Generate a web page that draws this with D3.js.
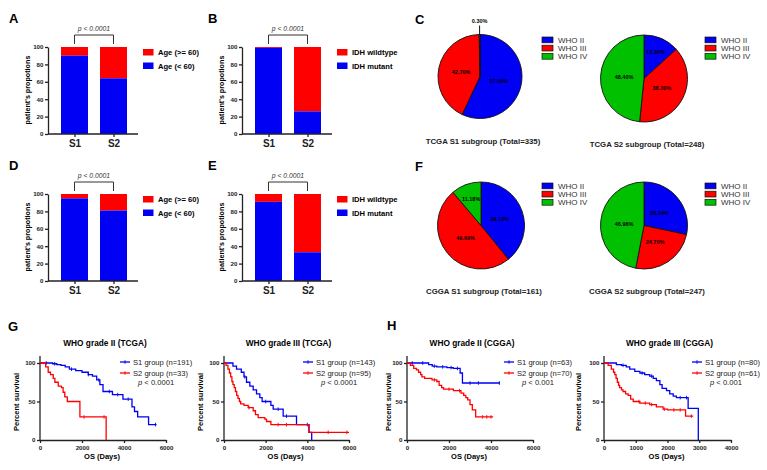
<!DOCTYPE html>
<html><head><meta charset="utf-8">
<script src="https://cdn.jsdelivr.net/npm/d3@7"></script>
<style>body{margin:0;background:#fff}text{font-family:"Liberation Sans",Arial,sans-serif}</style>
</head><body><svg id="c" width="767" height="470"></svg>
<script>
// ---------- DATA ----------
const barCategories = ["S1", "S2"];
const ageLegend = ["Age (>= 60)", "Age (< 60)"];
const idhLegend = ["IDH wildtype", "IDH mutant"];
const tcgaAgeYoung = [90, 64];     // % blue (Age < 60)
const tcgaIdhMutant = [99, 26];    // % blue (IDH mutant)
const cggaAgeYoung = [95, 81];
const cggaIdhMutant = [91, 33];
const barTicks = [0, 20, 40, 60, 80, 100];
const barPText = "p < 0.0001";

const whoGrades = ["WHO II", "WHO III", "WHO IV"];
const tcgaS1Pct = [57.00, 42.70, 0.30];
const tcgaS2Pct = [13.30, 38.30, 48.40];
const cggaS1Pct = [39.13, 49.69, 11.18];
const cggaS2Pct = [28.34, 24.70, 46.96];
const pieTitles = ["TCGA S1 subgroup (Total=335)", "TCGA S2 subgroup (Total=248)",
                   "CGGA S1 subgroup (Total=161)", "CGGA S2 subgroup (Total=247)"];

// Kaplan-Meier curves: [days, percent survival]
const gIIs1 = [[0,100],[600,99],[800,98],[1000,97],[1200,95],[1400,92],[1700,90],[2000,88],[2300,85],[2500,83],[2700,78],[2850,72],[3000,63],[3450,59],[3950,53],[4380,43],[4500,37],[4650,30],[5170,20],[5550,20]];
const gIIs2 = [[0,100],[270,95],[390,88],[500,85],[630,80],[710,75],[870,70],[1020,68],[1100,62],[1180,56],[1300,50],[1900,30],[3150,0]];
const gIIIs1 = [[0,100],[430,96],[600,92],[830,88],[960,82],[1080,75],[1240,70],[1400,65],[1560,60],[1720,55],[1830,50],[2250,45],[2360,40],[2840,31],[3480,20],[4080,10],[4210,0]];
const gIIIs2 = [[0,100],[100,97],[190,92],[260,87],[320,82],[380,76],[430,72],[490,68],[550,63],[610,58],[670,54],[740,50],[800,47],[960,45],[1160,42],[1400,38],[1510,33],[1640,29],[1960,27],[2040,24],[2250,20],[4080,10],[6000,10]];
const hIIs1 = [[0,100],[1030,98],[1200,96],[1420,95],[1900,94],[2200,93],[2530,87],[2640,74],[4420,74]];
const hIIs2 = [[0,100],[160,97],[320,93],[450,91],[550,88],[650,85],[710,82],[840,80],[1190,78],[1420,76],[1530,71],[1650,68],[1740,66],[2210,64],[2570,61],[2700,58],[2800,55],[2890,52],[3000,46],[3110,39],[3270,30],[4100,30]];
const hIIIs1 = [[0,100],[390,98],[550,97],[700,95],[810,92],[970,89],[1130,87],[1280,85],[1440,83],[1550,80],[1650,77],[1760,72],[1830,67],[1970,64],[2070,60],[2180,57],[2280,55],[2650,41],[2970,0]];
const hIIIs2 = [[0,100],[130,97],[230,92],[300,88],[340,85],[380,80],[420,75],[460,71],[490,68],[550,65],[600,63],[680,60],[760,58],[840,53],[920,50],[1130,48],[1440,46],[1650,43],[1860,40],[2000,39],[2570,31],[2810,31]];
// censor marks (days)
const gIIs1Cens = [300,700,1500,2300,2800,3300,3700,4200,5500];
const gIIs2Cens = [2100,3050];
const gIIIs1Cens = [1000,2000,2600,3000,4000];
const gIIIs2Cens = [1200,2600,3000,5000,5900];
const hIIs1Cens = [250,750,1300,1700,2100,2400,3000,3400,4400];
const hIIs2Cens = [1300,2000,2500,3600,3800,4000];
const hIIIs1Cens = [600,1200,1500,2400,2600];
const hIIIs2Cens = [1100,1300,1500,1900,2200,2400,2750];
const kmLegend = [["S1 group (n=191)","S2 group (n=33)"],["S1 group (n=143)","S2 group (n=95)"],
                  ["S1 group (n=63)","S2 group (n=70)"],["S1 group (n=80)","S2 group (n=61)"]];
const kmP = ["< 0.0001","< 0.0001","< 0.001","< 0.001"];
const kmTitles = ["WHO grade II (TCGA)","WHO grade III (TCGA)","WHO grade II (CGGA)","WHO grade III (CGGA)"];

// ---------- STYLE ----------
const BLUE = "#0000f5", RED = "#ff0000", GREEN = "#00c000", AX = "#222";
const svg = d3.select("#c");

function label(x, y, t) {
  svg.append("text").attr("x", x).attr("y", y).text(t)
    .attr("font-size", 13).attr("font-weight", "bold");
}

function styleAxis(g, fs) {
  g.selectAll("path,line").attr("stroke", AX).attr("stroke-width", 1.3);
  g.selectAll("text").attr("font-size", fs).attr("font-weight", "bold")
    .attr("fill", AX).style("font-family", '"Liberation Sans",Arial,sans-serif');
}

function barPanel(ox, oy, blueVals, legendLabels) {
  const g = svg.append("g");
  const y = d3.scaleLinear([0, 100], [oy, oy - 87]);
  const x = d3.scalePoint(barCategories, [ox + 26.5, ox + 65.5]);
  const bw = 27;
  barCategories.forEach((c, i) => {
    g.append("rect").attr("x", x(c) - bw / 2).attr("width", bw)
      .attr("y", y(100)).attr("height", y(blueVals[i]) - y(100)).attr("fill", RED);
    g.append("rect").attr("x", x(c) - bw / 2).attr("width", bw)
      .attr("y", y(blueVals[i])).attr("height", y(0) - y(blueVals[i])).attr("fill", BLUE);
  });
  const ya = g.append("g").attr("transform", `translate(${ox},0)`)
    .call(d3.axisLeft(y).tickValues(barTicks).tickSize(3).tickPadding(1.5).tickSizeOuter(0));
  styleAxis(ya, 6.2);
  const xa = g.append("g").attr("transform", `translate(0,${oy})`)
    .call(d3.axisBottom(x).tickSize(3).tickPadding(3).tickSizeOuter(0));
  xa.select(".domain").remove();
  styleAxis(xa, 10);
  g.append("line").attr("x1", ox).attr("x2", ox + 90).attr("y1", oy).attr("y2", oy)
    .attr("stroke", AX).attr("stroke-width", 1.3);
  // bracket
  g.append("path").attr("d", `M${x("S1")},${oy - 90}V${oy - 99}H${x("S2")}V${oy - 90}`)
    .attr("fill", "none").attr("stroke", "#333").attr("stroke-width", 1);
  g.append("text").attr("x", (x("S1") + x("S2")) / 2).attr("y", oy - 103.5)
    .attr("text-anchor", "middle").attr("font-size", 6.8).attr("font-style", "italic")
    .attr("fill", "#333").text(barPText);
  // y label
  g.append("text").attr("transform", `translate(${ox - 18},${oy - 44}) rotate(-90)`)
    .attr("text-anchor", "middle").attr("font-size", 7.2).attr("font-weight", "bold")
    .text("patient's propotions");
  // legend
  [RED, BLUE].forEach((col, i) => {
    g.append("rect").attr("x", ox + 95).attr("y", oy - 85 + i * 13.5).attr("width", 10.5).attr("height", 6.5).attr("fill", col);
    g.append("text").attr("x", ox + 110).attr("y", oy - 79 + i * 13.5).attr("font-size", 7.6)
      .attr("font-weight", "bold").text(legendLabels[i]);
  });
}

function piePanel(cx, cy, r, vals, title, lx, ly) {
  const g = svg.append("g");
  const pie = d3.pie().sort(null).value(d => d);
  const arcs = pie(vals);
  const arc = d3.arc().innerRadius(0).outerRadius(r);
  const cols = [BLUE, RED, GREEN];
  g.selectAll("path").data(arcs).join("path")
    .attr("transform", `translate(${cx},${cy})`)
    .attr("d", arc).attr("fill", (d, i) => cols[i]).attr("stroke", "#111").attr("stroke-width", 0.9);
  arcs.forEach((a, i) => {
    const frac = vals[i] / 100;
    const txt = vals[i].toFixed(2) + "%";
    if (frac < 0.02) {
      const ang = (a.startAngle + a.endAngle) / 2;
      const px = cx + Math.sin(ang) * r, py = cy - Math.cos(ang) * r;
      g.append("line").attr("x1", px).attr("y1", py).attr("x2", px).attr("y2", py - 9)
        .attr("stroke", "#111").attr("stroke-width", 1);
      g.append("text").attr("x", px).attr("y", py - 11.5).attr("text-anchor", "middle")
        .attr("font-size", 5.5).attr("font-weight", "bold").text(txt);
    } else {
      const lr = frac < 0.16 ? r * 0.66 : r * 0.46;
      const ang = (a.startAngle + a.endAngle) / 2;
      g.append("text").attr("x", cx + Math.sin(ang) * lr).attr("y", cy - Math.cos(ang) * lr + 2)
        .attr("text-anchor", "middle").attr("font-size", 5.5).attr("font-weight", "bold").text(txt);
    }
  });
  g.append("text").attr("x", cx + 3).attr("y", cy + r + 25).attr("text-anchor", "middle")
    .attr("font-size", 7.8).attr("font-weight", "bold").attr("fill", "#222").text(title);
  whoGrades.forEach((w, i) => {
    g.append("rect").attr("x", lx).attr("y", ly + i * 8.2).attr("width", 11).attr("height", 5.8)
      .attr("fill", cols[i]).attr("stroke", "#111").attr("stroke-width", 0.7);
    g.append("text").attr("x", lx + 16).attr("y", ly + 5.8 + i * 8.2).attr("font-size", 8)
      .attr("fill", "#333").text(w);
  });
}

function kmPanel(x0, x1, xmax, xticks, title, s1, s2, c1, c2, leg, ptxt, legX, ylx) {
  const g = svg.append("g");
  const x = d3.scaleLinear([0, xmax], [x0, x1]);
  const y = d3.scaleLinear([0, 100], [440, 363]);
  g.append("text").attr("x", (x0 + x1) / 2 + 2).attr("y", 346).attr("text-anchor", "middle")
    .attr("font-size", 8.3).attr("font-weight", "bold").text(title);
  const ya = g.append("g").attr("transform", `translate(${x0},0)`)
    .call(d3.axisLeft(y).tickValues([0, 50, 100]).tickSize(3).tickPadding(1.5).tickSizeOuter(0));
  ya.select(".domain").attr("d", `M0,${y(0)}V${y(109)}`);
  styleAxis(ya, 6.2);
  const xa = g.append("g").attr("transform", `translate(0,440)`)
    .call(d3.axisBottom(x).tickValues(xticks).tickFormat(d3.format("d")).tickSize(3).tickPadding(2.5).tickSizeOuter(0));
  styleAxis(xa, 6.2);
  g.append("text").attr("x", (x0 + x1) / 2 - 1).attr("y", 459).attr("text-anchor", "middle")
    .attr("font-size", 7.5).attr("font-weight", "bold").text("OS (Days)");
  g.append("text").attr("transform", `translate(${ylx},402) rotate(-90)`).attr("text-anchor", "middle")
    .attr("font-size", 7.5).attr("font-weight", "bold").text("Percent survival");
  const line = d3.line().x(d => x(d[0])).y(d => y(d[1])).curve(d3.curveStepAfter);
  const valAt = (curve, t) => { let v = 100; curve.forEach(p => { if (p[0] <= t) v = p[1]; }); return v; };
  [[s1, c1, BLUE], [s2, c2, RED]].forEach(([cv, cens, col]) => {
    g.append("path").datum(cv).attr("d", line).attr("fill", "none").attr("stroke", col).attr("stroke-width", 1.3);
    cens.forEach(t => {
      const yy = y(valAt(cv, t));
      g.append("line").attr("x1", x(t)).attr("x2", x(t)).attr("y1", yy - 1.8).attr("y2", yy + 1.8)
        .attr("stroke", col).attr("stroke-width", 0.9);
    });
  });
  [BLUE, RED].forEach((col, i) => {
    const ly = 362 + i * 11;
    g.append("line").attr("x1", legX).attr("x2", legX + 10).attr("y1", ly).attr("y2", ly)
      .attr("stroke", col).attr("stroke-width", 1.3);
    g.append("line").attr("x1", legX + 5).attr("x2", legX + 5).attr("y1", ly - 1.8).attr("y2", ly + 1.8)
      .attr("stroke", col).attr("stroke-width", 0.9);
    g.append("text").attr("x", legX + 13).attr("y", ly + 2.6).attr("font-size", 7.6)
      .attr("fill", "#222").text(leg[i]);
  });
  const pt = g.append("text").attr("x", legX + 18).attr("y", 384.5).attr("font-size", 7.6).attr("fill", "#222");
  pt.append("tspan").attr("font-style", "italic").text("p");
  pt.append("tspan").text(" " + ptxt);
}

// ---------- DRAW ----------
label(9, 23, "A"); label(208, 23, "B"); label(415, 24, "C");
label(9, 170, "D"); label(208, 170, "E"); label(415, 171, "F");
label(8, 331, "G"); label(387, 330, "H");

barPanel(48, 134, tcgaAgeYoung, ageLegend);
barPanel(242, 134, tcgaIdhMutant, idhLegend);
barPanel(48, 281, cggaAgeYoung, ageLegend);
barPanel(242, 281, cggaIdhMutant, idhLegend);

piePanel(480, 76.5, 42, tcgaS1Pct, pieTitles[0], 542, 37);
piePanel(644, 78.5, 43.5, tcgaS2Pct, pieTitles[1], 705, 37);
piePanel(481, 225.5, 43.5, cggaS1Pct, pieTitles[2], 542, 183);
piePanel(644, 225.5, 43.5, cggaS2Pct, pieTitles[3], 705, 183);

kmPanel(40, 166, 6000, [0, 2000, 4000, 6000], kmTitles[0], gIIs1, gIIs2, gIIs1Cens, gIIs2Cens, kmLegend[0], kmP[0], 120, 19);
kmPanel(224, 349, 6000, [0, 2000, 4000, 6000], kmTitles[1], gIIIs1, gIIIs2, gIIIs1Cens, gIIIs2Cens, kmLegend[1], kmP[1], 303, 203);
kmPanel(407, 533, 6000, [0, 2000, 4000, 6000], kmTitles[2], hIIs1, hIIs2, hIIs1Cens, hIIs2Cens, kmLegend[2], kmP[2], 504, 391);
kmPanel(604, 731, 4000, [0, 1000, 2000, 3000, 4000], kmTitles[3], hIIIs1, hIIIs2, hIIIs1Cens, hIIIs2Cens, kmLegend[3], kmP[3], 692, 581);
</script></body></html>
